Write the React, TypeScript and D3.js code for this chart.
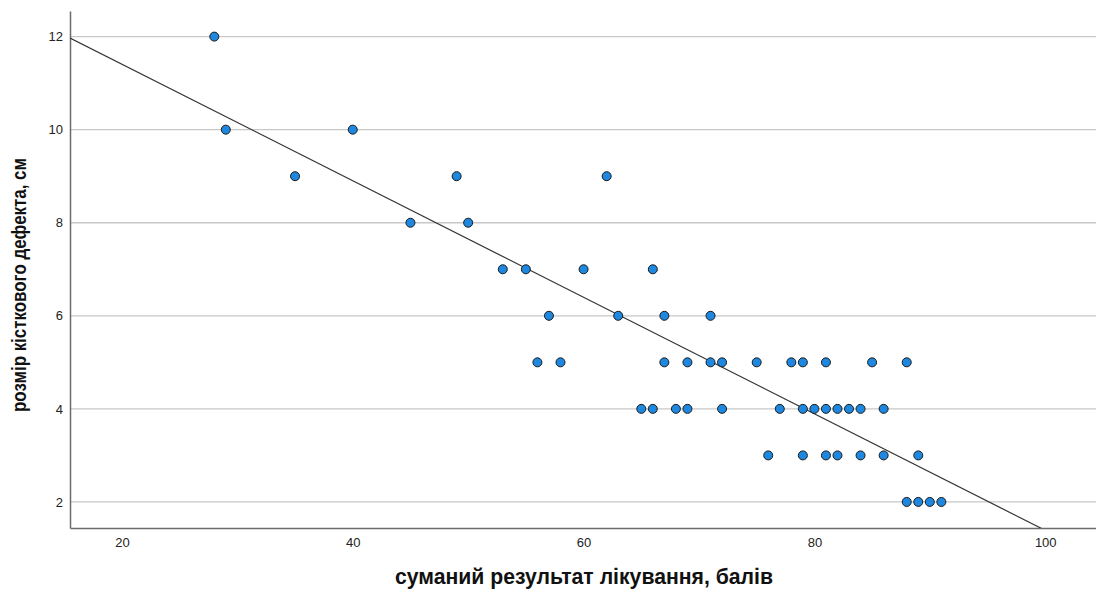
import React, { useEffect, useRef } from "react";
import * as d3 from "d3";

// сумарний результат (x) і розмір дефекту (y)
const scoreValues = [
  28, 29, 40, 35, 49, 62, 45, 50, 53, 55, 60, 66, 57, 63, 67, 71,
  56, 58, 67, 69, 71, 72, 75, 78, 79, 81, 85, 88,
  65, 66, 68, 69, 72, 77, 79, 80, 81, 82, 83, 84, 86,
  76, 79, 81, 82, 84, 86, 89,
  88, 89, 90, 91,
];
const defectValues = [
  12, 10, 10, 9, 9, 9, 8, 8, 7, 7, 7, 7, 6, 6, 6, 6,
  5, 5, 5, 5, 5, 5, 5, 5, 5, 5, 5, 5,
  4, 4, 4, 4, 4, 4, 4, 4, 4, 4, 4, 4, 4,
  3, 3, 3, 3, 3, 3, 3,
  2, 2, 2, 2,
];
const xTicks = [20, 40, 60, 80, 100];
const yTicks = [2, 4, 6, 8, 10, 12];
// лінія регресії: y = a + b*x
const fitIntercept = 13.91;
const fitSlope = -0.1252;

const ScatterChart = ({ width = 1096, height = 589 }) => {
  const chart = useRef(null);

  useEffect(() => {
    const margin = { top: 11, right: 0, bottom: 61, left: 70 };
    const w = width - margin.left - margin.right;
    const h = height - margin.top - margin.bottom;

    const root = d3.select(chart.current);
    root.selectAll("*").remove();
    root.attr("width", width).attr("height", height);

    const svg = root
      .append("g")
      .attr("transform", "translate(" + margin.left + "," + margin.top + ")");

    const x = d3.scaleLinear().domain([15.5, 104.4]).range([0, w]);
    const y = d3.scaleLinear().domain([1.44, 12.55]).range([h, 0]);

    // горизонтальна сітка
    svg
      .append("g")
      .selectAll("line")
      .data(yTicks)
      .enter()
      .append("line")
      .attr("x1", 0)
      .attr("x2", w)
      .attr("y1", (d) => y(d))
      .attr("y2", (d) => y(d))
      .attr("stroke", "#c8c8c8")
      .attr("stroke-width", 1.3);

    const yAxis = svg
      .append("g")
      .call(d3.axisLeft(y).tickValues(yTicks).tickSize(0).tickPadding(7));
    yAxis.select(".domain").attr("stroke", "#6b6b6b").attr("stroke-width", 1.5);
    yAxis
      .selectAll("text")
      .style("font-family", "'Liberation Sans', Arial, sans-serif")
      .style("font-size", "13px")
      .attr("fill", "#222");

    const xAxis = svg
      .append("g")
      .attr("transform", "translate(0," + h + ")")
      .call(d3.axisBottom(x).tickValues(xTicks).tickSize(0).tickPadding(10));
    xAxis.select(".domain").attr("stroke", "#6b6b6b").attr("stroke-width", 1.5);
    xAxis
      .selectAll("text")
      .style("font-family", "'Liberation Sans', Arial, sans-serif")
      .style("font-size", "13px")
      .attr("fill", "#222");

    // лінія регресії, обрізана по області графіка
    svg
      .append("clipPath")
      .attr("id", "plotClip")
      .append("rect")
      .attr("width", w)
      .attr("height", h);
    const xStart = 15.5;
    const xEnd = 104.4;
    const line = d3
      .line()
      .x((d) => x(d[0]))
      .y((d) => y(d[1]));
    svg
      .append("path")
      .attr("clip-path", "url(#plotClip)")
      .attr(
        "d",
        line([
          [xStart, fitIntercept + fitSlope * xStart],
          [xEnd, fitIntercept + fitSlope * xEnd],
        ])
      )
      .attr("fill", "none")
      .attr("stroke", "#333")
      .attr("stroke-width", 1.2);

    svg
      .selectAll("circle")
      .data(scoreValues)
      .enter()
      .append("circle")
      .attr("cx", (d) => x(d))
      .attr("cy", (d, i) => y(defectValues[i]))
      .attr("r", 4.5)
      .attr("fill", "#1e88e0")
      .attr("stroke", "#1a1a1a")
      .attr("stroke-width", 1);

    root
      .append("text")
      .attr("x", 584)
      .attr("y", 584)
      .attr("text-anchor", "middle")
      .attr("textLength", 378)
      .attr("lengthAdjust", "spacingAndGlyphs")
      .style("font-family", "'Liberation Sans', Arial, sans-serif")
      .style("font-weight", "bold")
      .style("font-size", "22px")
      .attr("fill", "#111")
      .text("суманий результат лікування, балів");

    root
      .append("text")
      .attr("transform", "translate(26,285) rotate(-90)")
      .attr("text-anchor", "middle")
      .attr("textLength", 254)
      .attr("lengthAdjust", "spacingAndGlyphs")
      .style("font-family", "'Liberation Sans', Arial, sans-serif")
      .style("font-weight", "bold")
      .style("font-size", "20px")
      .attr("fill", "#111")
      .text("розмір кісткового дефекта, см");
  });

  return (
    <div id="chartArea" style={{ position: "absolute", left: 0, top: 0 }}>
      <svg ref={chart} style={{ display: "block" }}></svg>
    </div>
  );
};

export default function App() {
  return <ScatterChart />;
}
